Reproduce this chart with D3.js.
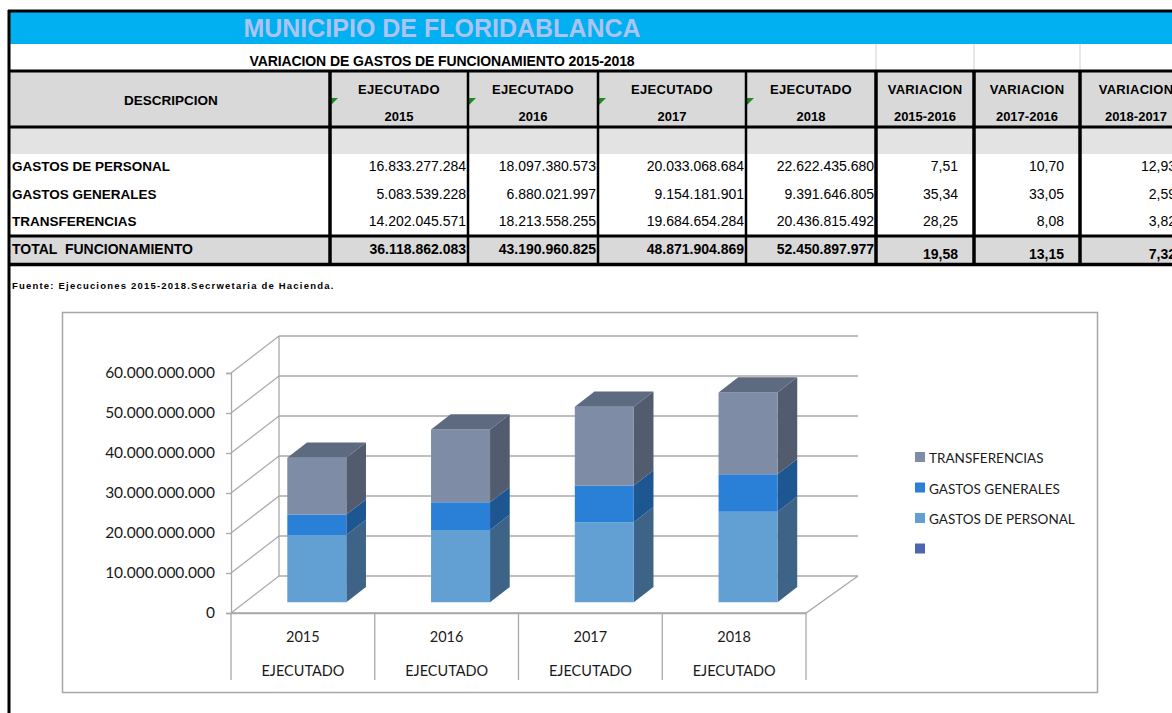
<!DOCTYPE html>
<html>
<head>
<meta charset="utf-8">
<script src="https://cdn.jsdelivr.net/npm/d3@7"></script>
<style>
  html, body { margin: 0; padding: 0; background: #fff; }
  svg { display: block; }
  .tbl { font-family: "Liberation Sans", Arial, sans-serif; }
  .chart text { font-family: Lato, "Open Sans", sans-serif; }
</style>
</head>
<body>
<svg id="page" width="1172" height="713"></svg>
<script>
// ---- data ----
const years = ["2015", "2016", "2017", "2018"];
const rowNames = ["GASTOS DE PERSONAL", "GASTOS GENERALES", "TRANSFERENCIAS"];
const personal = [16833277284, 18097380573, 20033068684, 22622435680];
const generales = [5083539228, 6880021997, 9154181901, 9391646805];
const transferencias = [14202045571, 18213558255, 19684654284, 20436815492];
const totals = [36118862083, 43190960825, 48871904869, 52450897977];
const varLabels = ["2015-2016", "2017-2016", "2018-2017"];
const varPersonal = [7.51, 10.70, 12.93];
const varGenerales = [35.34, 33.05, 2.59];
const varTransferencias = [28.25, 8.08, 3.82];
const varTotal = [19.58, 13.15, 7.32];
const yTicks = [0, 10e9, 20e9, 30e9, 40e9, 50e9, 60e9];
const legendNames = ["TRANSFERENCIAS", "GASTOS GENERALES", "GASTOS DE PERSONAL", ""];

const loc = d3.formatLocale({ decimal: ",", thousands: ".", grouping: [3], currency: ["", ""] });
const fmtInt = loc.format(",d");
const fmtPct = loc.format(".2f");

const svg = d3.select("#page");
svg.append("rect").attr("width", 1172).attr("height", 713).attr("fill", "#fff");

// ---- table ----
const t = svg.append("g").attr("class", "tbl");
const colX = [10, 330, 468, 598, 746, 876, 974, 1080, 1192];

// title band
t.append("rect").attr("x", 9).attr("y", 11).attr("width", 1170).attr("height", 33).attr("fill", "#00B0F0");
t.append("text").attr("x", 442).attr("y", 37).attr("text-anchor", "middle")
  .attr("font-size", 25).attr("font-weight", "bold").attr("fill", "#AEC3F3")
  .text("MUNICIPIO DE FLORIDABLANCA");

t.append("text").attr("x", 442).attr("y", 66).attr("text-anchor", "middle")
  .attr("font-size", 14).attr("font-weight", "bold").attr("letter-spacing", -0.1)
  .text("VARIACION DE GASTOS DE FUNCIONAMIENTO 2015-2018");
[876, 974, 1080].forEach(x => {
  t.append("line").attr("x1", x).attr("x2", x).attr("y1", 44).attr("y2", 71)
    .attr("stroke", "#D0D0D0").attr("stroke-width", 1);
});

// header / shaded rows
t.append("rect").attr("x", 10).attr("y", 72).attr("width", 1170).attr("height", 55).attr("fill", "#D9D9D9");
t.append("rect").attr("x", 10).attr("y", 128).attr("width", 1170).attr("height", 26).attr("fill", "#E3E3E3");
t.append("rect").attr("x", 10).attr("y", 237).attr("width", 1170).attr("height", 27).attr("fill", "#D9D9D9");

const colCenter = i => (colX[i] + colX[i + 1]) / 2;
t.append("text").attr("x", colCenter(0) + 1).attr("y", 105).attr("text-anchor", "middle")
  .attr("font-size", 13.5).attr("font-weight", "bold").text("DESCRIPCION");
years.forEach((yr, i) => {
  t.append("text").attr("x", colCenter(i + 1)).attr("y", 94).attr("text-anchor", "middle")
    .attr("font-size", 13).attr("font-weight", "bold").attr("letter-spacing", 0.3).text("EJECUTADO");
  t.append("text").attr("x", colCenter(i + 1)).attr("y", 121).attr("text-anchor", "middle")
    .attr("font-size", 13).attr("font-weight", "bold").text(yr);
  const gx = colX[i + 1] + 1;
  t.append("path").attr("d", `M${gx},98 L${gx + 7},98 L${gx},105 Z`).attr("fill", "#1E8A1E");
});
varLabels.forEach((lab, i) => {
  t.append("text").attr("x", colCenter(i + 5)).attr("y", 94).attr("text-anchor", "middle")
    .attr("font-size", 13).attr("font-weight", "bold").attr("letter-spacing", 0.3).text("VARIACION");
  t.append("text").attr("x", colCenter(i + 5)).attr("y", 121).attr("text-anchor", "middle")
    .attr("font-size", 13).attr("font-weight", "bold").text(lab);
});

// body rows
const rowY = [171, 199, 226];
const series = [personal, generales, transferencias];
const varSeries = [varPersonal, varGenerales, varTransferencias];
rowNames.forEach((name, r) => {
  t.append("text").attr("x", 12).attr("y", rowY[r]).attr("font-size", 13.5)
    .attr("font-weight", "bold").text(name);
  series[r].forEach((v, i) => {
    t.append("text").attr("x", colX[i + 2] - 2).attr("y", rowY[r]).attr("text-anchor", "end")
      .attr("font-size", 14).text(fmtInt(v));
  });
  varSeries[r].forEach((v, i) => {
    t.append("text").attr("x", colX[i + 6] - 16).attr("y", rowY[r]).attr("text-anchor", "end")
      .attr("font-size", 14).text(fmtPct(v));
  });
});

// total row
t.append("text").attr("x", 12).attr("y", 254).attr("font-size", 14).attr("font-weight", "bold")
  .style("white-space", "pre").text("TOTAL  FUNCIONAMIENTO");
totals.forEach((v, i) => {
  t.append("text").attr("x", colX[i + 2] - 2).attr("y", 254).attr("text-anchor", "end")
    .attr("font-size", 14).attr("font-weight", "bold").text(fmtInt(v));
});
varTotal.forEach((v, i) => {
  t.append("text").attr("x", colX[i + 6] - 16).attr("y", 259).attr("text-anchor", "end")
    .attr("font-size", 14).attr("font-weight", "bold").text(fmtPct(v));
});

// borders
const blk = (x1, y1, x2, y2, w) => t.append("line").attr("x1", x1).attr("y1", y1).attr("x2", x2).attr("y2", y2)
  .attr("stroke", "#000").attr("stroke-width", w);
blk(8, 11, 1172, 11, 3);
blk(9, 10, 9, 713, 3);
blk(8, 71, 1172, 71, 3);
blk(8, 127, 1172, 127, 3);
blk(8, 236, 1172, 236, 3);
blk(8, 264.5, 1172, 264.5, 3.5);
colX.slice(1, 8).forEach((x, i) => blk(x, 71, x, 264, i === 0 || i >= 4 ? 3.5 : 2.5));

t.append("text").attr("x", 12).attr("y", 289).attr("font-size", 9.5).attr("font-weight", "bold")
  .attr("letter-spacing", 1.2).text("Fuente: Ejecuciones 2015-2018.Secrwetaria de Hacienda.");

// ---- chart ----
const c = svg.append("g").attr("class", "chart");
c.append("rect").attr("x", 62.5).attr("y", 312.5).attr("width", 1035).attr("height", 380)
  .attr("fill", "#fff").attr("stroke", "#A6A6A6").attr("stroke-width", 1.5);

const x = d3.scaleBand().domain(years).range([231, 806]);
const y = d3.scaleLinear().domain([0, 60e9]).range([613, 373]);
const DX = 48, DY = -37;       // full depth offset of the walls
const f0 = 0.29, f1 = 0.70;    // bar front / back depth
const grid = "#A9A9A9";

// back wall + side wall gridlines
yTicks.forEach(v => {
  c.append("line").attr("x1", 231).attr("y1", y(v)).attr("x2", 231 + DX).attr("y2", y(v) + DY)
    .attr("stroke", grid).attr("stroke-width", 1.3);
  c.append("line").attr("x1", 231 + DX).attr("y1", y(v) + DY).attr("x2", 858).attr("y2", y(v) + DY)
    .attr("stroke", grid).attr("stroke-width", 1.3);
});
c.append("line").attr("x1", 231 + DX).attr("y1", y(60e9) + DY).attr("x2", 231 + DX).attr("y2", y(0) + DY)
  .attr("stroke", grid).attr("stroke-width", 1.3);
// floor
c.append("path").attr("d", `M231,${y(0)} L806,${y(0)} L858,${y(0) + DY}`)
  .attr("fill", "none").attr("stroke", grid).attr("stroke-width", 1.3);

// y axis
const yAxis = c.append("g").attr("transform", "translate(231,0)")
  .call(d3.axisLeft(y).tickValues(yTicks).tickSize(5).tickPadding(11).tickFormat(fmtInt));
yAxis.selectAll("line, path").attr("stroke", grid).attr("stroke-width", 1.3);
yAxis.selectAll("text").attr("font-size", 15.5).attr("fill", "#1a1a1a").attr("font-family", "Lato, sans-serif");

// category axis
const xAxis = c.append("g").attr("transform", `translate(0,${y(0)})`)
  .call(d3.axisBottom(x).tickSize(0).tickFormat(() => ""));
xAxis.select("path").attr("stroke", grid).attr("stroke-width", 1.3);
[...years.map(d => x(d)), 806].forEach(px => {
  c.append("line").attr("x1", px).attr("x2", px).attr("y1", y(0)).attr("y2", 680)
    .attr("stroke", grid).attr("stroke-width", 1.3);
});
years.forEach(yr => {
  const cx = x(yr) + x.bandwidth() / 2;
  c.append("text").attr("x", cx).attr("y", 642).attr("text-anchor", "middle").attr("font-size", 14.5)
    .attr("fill", "#1a1a1a").text(yr);
  c.append("text").attr("x", cx).attr("y", 676).attr("text-anchor", "middle").attr("font-size", 14.5)
    .attr("fill", "#1a1a1a").text("EJECUTADO");
});

// stacked 3D bars
const stackRows = years.map((yr, i) => ({ year: yr, personal: personal[i], generales: generales[i], transferencias: transferencias[i] }));
const keys = ["personal", "generales", "transferencias"];
const colors = {
  personal: { front: "#629FD3", side: "#3D6487" },
  generales: { front: "#2A80D6", side: "#1D5691" },
  transferencias: { front: "#7F8CA6", side: "#525C6E", top: "#5E6A80" }
};
const stacked = d3.stack().keys(keys)(stackRows);
const barW = 59;
const pt = (px, v, f) => [px + DX * f, y(v) + DY * f];

years.forEach((yr, i) => {
  const xl = x(yr) + (x.bandwidth() - barW) / 2;
  const xr = xl + barW;
  stacked.forEach((layer, li) => {
    const [v0, v1] = layer[i];
    const col = colors[layer.key];
    const a = pt(xl, v1, f0), b = pt(xr, v1, f0), cc = pt(xr, v0, f0), d = pt(xl, v0, f0);
    const b2 = pt(xr, v1, f1), c2 = pt(xr, v0, f1), a2 = pt(xl, v1, f1);
    c.append("polygon").attr("points", [b, b2, c2, cc].join(" ")).attr("fill", col.side);
    c.append("polygon").attr("points", [a, b, cc, d].join(" ")).attr("fill", col.front);
    if (li === stacked.length - 1) {
      c.append("polygon").attr("points", [a, a2, b2, b].join(" ")).attr("fill", col.top);
    }
  });
});

// legend
const legendColors = ["#7F8CA6", "#2A80D6", "#629FD3", "#4A66AC"];
legendNames.forEach((name, i) => {
  const ly = 452 + i * 30.5;
  c.append("rect").attr("x", 915).attr("y", ly).attr("width", 10).attr("height", 10).attr("fill", legendColors[i]);
  c.append("text").attr("x", 929).attr("y", ly + 11).attr("font-size", 13.5).attr("fill", "#1a1a1a").text(name);
});
</script>
</body>
</html>
